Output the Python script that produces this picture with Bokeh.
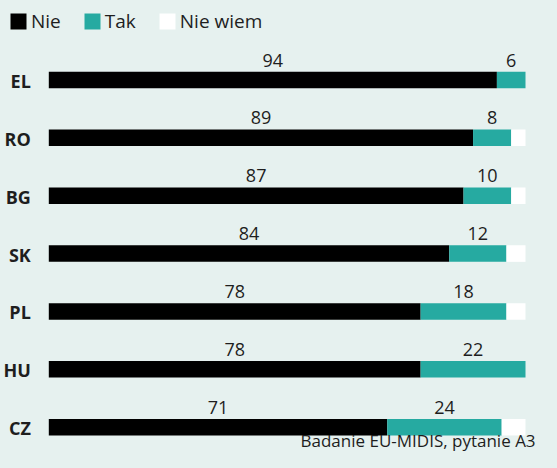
from bokeh.plotting import figure
from bokeh.models import Range1d, ColumnDataSource, Legend, LegendItem, Label
from bokeh.core.properties import value
from bokeh.embed import file_html
from bokeh.resources import INLINE

# ---- data ----
countries = ["EL", "RO", "BG", "SK", "PL", "HU", "CZ"]
nie = [94, 89, 87, 84, 78, 78, 71]
tak = [6, 8, 10, 12, 18, 22, 24]
nie_wiem = [0, 3, 3, 4, 4, 0, 5]
series_names = ["Nie", "Tak", "Nie wiem"]
source_text = "Badanie EU-MIDIS, pytanie A3"

# ---- style ----
BG = "#e6f1ef"
BLACK = "#000000"
TEAL = "#26aaa1"
WHITE = "#ffffff"
TXT = "#1e1e1e"
FONT = "Open Sans"

W, H = 541, 452
bar_left_px, bar_right_px = 48.3, 525.0
row0_px, row_step = 79.5, 57.87
scale = (bar_right_px - bar_left_px) / 100.0

x_range = Range1d(-bar_left_px / scale, 100 + (W - bar_right_px) / scale)
y_range = Range1d(start=(H - row0_px) / row_step, end=-row0_px / row_step)

p = figure(width=W, height=H, x_range=x_range, y_range=y_range,
           output_backend="svg", toolbar_location=None,
           min_border=0, min_border_left=0, min_border_right=0,
           min_border_top=0, min_border_bottom=0)
p.background_fill_color = BG
p.border_fill_color = BG
p.outline_line_color = None
p.axis.visible = False
p.grid.visible = False

rows = list(range(len(countries)))
left1 = [0] * len(rows)
right1 = nie
left2 = nie
right2 = [a + b for a, b in zip(nie, tak)]
left3 = right2
right3 = [a + b for a, b in zip(right2, nie_wiem)]

src = ColumnDataSource(dict(y=rows, l1=left1, r1=right1, l2=left2, r2=right2,
                            l3=left3, r3=right3,
                            c1=[(a + b) / 2 for a, b in zip(left1, right1)],
                            c2=[(a + b) / 2 for a, b in zip(left2, right2)],
                            t1=[str(v) for v in nie],
                            t2=[str(v) if v > 0 else "" for v in tak],
                            cat=countries,
                            lx=[-18 / scale] * len(rows)))

bh = 16.5 / row_step
r1 = p.hbar(y="y", left="l1", right="r1", height=bh, source=src, fill_color=BLACK, line_color=None)
r2 = p.hbar(y="y", left="l2", right="r2", height=bh, source=src, fill_color=TEAL, line_color=None)
r3 = p.hbar(y="y", left="l3", right="r3", height=bh, source=src, fill_color=WHITE, line_color=None)

p.text(x="c1", y="y", text="t1", source=src, y_offset=-20, text_align="center",
       text_baseline="alphabetic", text_font=value(FONT), text_font_size="18px", text_color=TXT)
p.text(x="c2", y="y", text="t2", source=src, y_offset=-20, text_align="center",
       text_baseline="alphabetic", text_font=value(FONT), text_font_size="18px", text_color=TXT)
p.text(x="lx", y="y", text="cat", source=src, y_offset=1, text_align="right", text_baseline="middle",
       text_font=value(FONT), text_font_style="bold", text_font_size="18px", text_color=TXT)

legend = Legend(items=[LegendItem(label=series_names[0], renderers=[r1]),
                       LegendItem(label=series_names[1], renderers=[r2]),
                       LegendItem(label=series_names[2], renderers=[r3])],
                location="top_left", orientation="horizontal",
                margin=8, padding=0, spacing=21,
                glyph_width=20, glyph_height=20, label_standoff=3,
                label_height=20,
                label_text_font=FONT, label_text_font_size="19px", label_text_color=TXT,
                background_fill_alpha=0, border_line_alpha=0)
p.add_layout(legend)

p.add_layout(Label(x=300, y=H - 440, x_units="screen", y_units="screen", text=source_text,
                   text_font=FONT, text_font_size="17px", text_color=TXT,
                   text_baseline="alphabetic", text_align="left"))

html = file_html(p, INLINE)
html = html.replace("<body>", '<body style="background:%s">' % BG)
open("out.html", "w").write(html)
